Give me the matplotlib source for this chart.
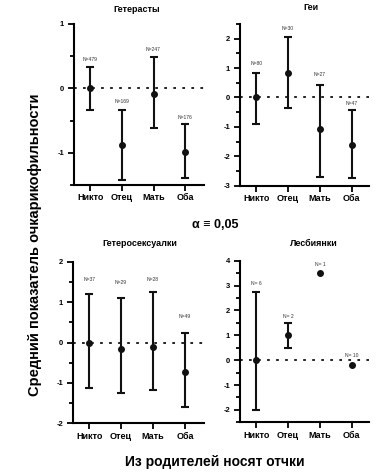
import matplotlib.pyplot as plt
import numpy as np
from matplotlib.ticker import MultipleLocator

plt.rcParams['font.family'] = ['Liberation Sans', 'DejaVu Sans']

cats = ['Никто', 'Отец', 'Мать', 'Оба']

# Гетерасты
het_mean = [0.0, -0.88, -0.08, -0.99]
het_hi = [0.33, -0.33, 0.49, -0.56]
het_lo = [-0.33, -1.43, -0.62, -1.39]
het_n = ['N=479', 'N=169', 'N=247', 'N=176']
het_ny = [0.45, -0.2, 0.61, -0.45]

# Геи
gay_mean = [0.0, 0.85, -1.07, -1.6]
gay_hi = [0.85, 2.07, 0.43, -0.43]
gay_lo = [-0.91, -0.37, -2.71, -2.75]
gay_n = ['N=80', 'N=30', 'N=27', 'N=47']
gay_ny = [1.15, 2.34, 0.77, -0.19]

# Гетеросексуалки
hetf_mean = [0.0, -0.16, -0.12, -0.74]
hetf_hi = [1.21, 1.11, 1.26, 0.24]
hetf_lo = [-1.13, -1.25, -1.17, -1.59]
hetf_n = ['N=37', 'N=29', 'N=28', 'N=49']
hetf_ny = [1.57, 1.48, 1.57, 0.65]

# Лесбиянки
les_mean = [0.0, 1.0, 3.5, -0.2]
les_hi = [2.73, 1.51, 3.5, -0.2]
les_lo = [-1.99, 0.49, 3.5, -0.2]
les_n = ['N= 6', 'N= 2', 'N= 1', 'N= 10']
les_ny = [3.07, 1.77, 3.83, 0.19]

W, H = 382, 473
fig = plt.figure(figsize=(W / 100, H / 100), dpi=100)


def px_axes(l, t, r, b):
    return fig.add_axes([l / W, 1 - b / H, (r - l) / W, (b - t) / H])


panels = [
    ('Гетерасты', (74, 24, 204, 185), (-1.5, 1), het_mean, het_hi, het_lo, het_n, het_ny, 3.6, (137, 9)),
    ('Геи', (240, 24, 369, 185.7), (-3, 2.5), gay_mean, gay_hi, gay_lo, gay_n, gay_ny, 3.55, (311, 8)),
    ('Гетеросексуалки', (72.7, 261.7, 204, 423.3), (-2, 2), hetf_mean, hetf_hi, hetf_lo, hetf_n, hetf_ny, 3.6, (140, 244)),
    ('Лесбиянки', (240, 260.7, 369, 422.3), (-2.5, 4), les_mean, les_hi, les_lo, les_n, les_ny, 3.55, (314, 243)),
]

for title, box, ylim, mean, hi, lo, ns, ny, xr, tpos in panels:
    ax = px_axes(*box)
    x = np.arange(len(cats))
    mean = np.array(mean)
    err = [mean - np.array(lo), np.array(hi) - mean]
    has_err = (np.array(hi) - np.array(lo)) > 0
    ax.errorbar(x[has_err], mean[has_err], yerr=[err[0][has_err], err[1][has_err]],
                fmt='o', color='#111111', ms=4, elinewidth=1.5, capsize=3, capthick=1.5)
    ax.plot(x[~has_err], mean[~has_err], 'o', color='#111111', ms=4)
    ax.axhline(0, color='#111111', ls=(0, (1.5, 3.5)), lw=1.3, zorder=0)
    for xi, t, yi in zip(x, ns, ny):
        ax.text(xi, yi, t, ha='center', va='center', fontsize=3.6, color='#333333')
    ax.set_xlim(-0.52, xr)
    ax.set_ylim(*ylim)
    ax.yaxis.set_major_locator(MultipleLocator(1))
    ax.yaxis.set_minor_locator(MultipleLocator(0.5))
    ax.set_xticks(x)
    ax.set_xticklabels(cats, fontsize=6.5, fontweight='bold')
    for lab in ax.get_yticklabels():
        lab.set_fontsize(5.5)
        lab.set_fontweight('bold')
    ax.yaxis.set_major_formatter(plt.FuncFormatter(lambda v, p: '%d' % v))
    ax.tick_params(axis='y', which='major', length=4, width=1.3, pad=3)
    ax.tick_params(axis='y', which='minor', length=3, width=1.3)
    ax.tick_params(axis='x', length=4, width=1.3, pad=2)
    for s in ['top', 'right']:
        ax.spines[s].set_visible(False)
    for s in ['left', 'bottom']:
        ax.spines[s].set_linewidth(1.5)
    fig.text(tpos[0] / W, 1 - tpos[1] / H, title, ha='center', va='center',
             fontsize=6.5, fontweight='bold')

fig.text(215 / W, 1 - 225 / H, 'α ≡ 0,05', ha='center', va='center', fontsize=9, fontweight='bold')
fig.text(35 / W, 1 - 245 / H, 'Средний показатель очкарикофильности', rotation=90,
         ha='center', va='center', fontsize=10.5, fontweight='bold')
fig.text(215 / W, 1 - 462 / H, 'Из родителей носят отчки', ha='center', va='center',
         fontsize=10, fontweight='bold')

fig.savefig('out.png', dpi=100)
